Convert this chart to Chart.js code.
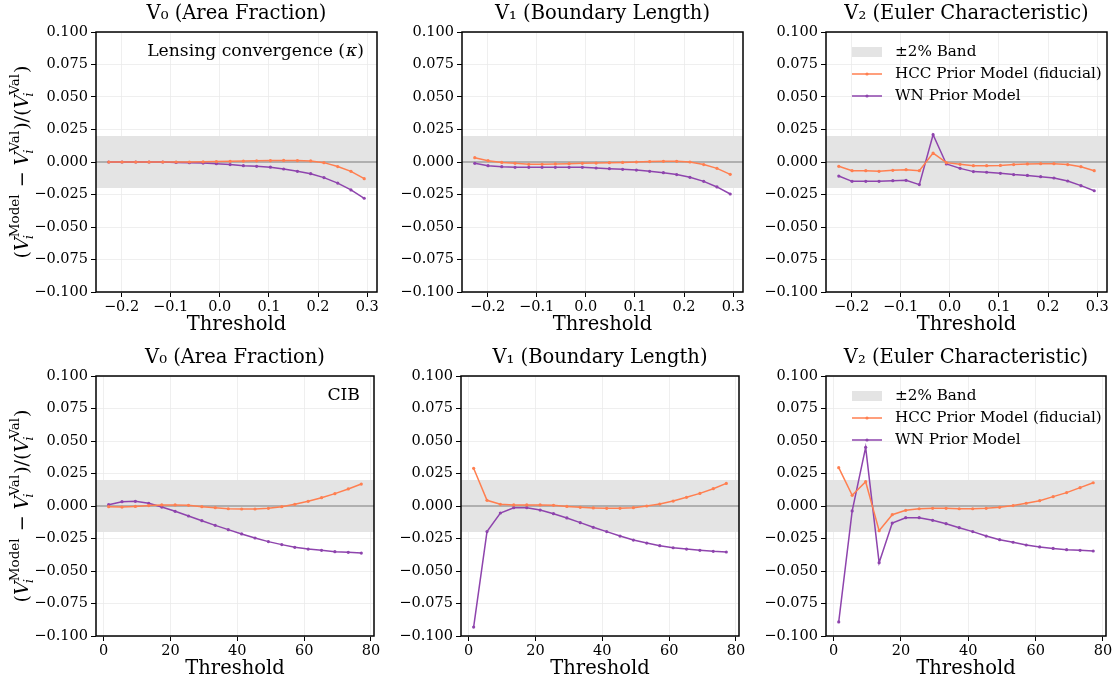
<!DOCTYPE html>
<html>
<head>
<meta charset="utf-8">
<script src="https://cdn.jsdelivr.net/npm/chart.js@4.4.1/dist/chart.umd.min.js"></script>
<style>
    html, body { margin: 0; padding: 0; background: #fff; }
    #wrap { position: relative; width: 1118px; height: 681px; overflow: hidden; }
    #wrap canvas { position: absolute; left: 0; top: 0; }
</style>
</head>
<body>
<div id="wrap"></div>
<script>
// thresholds
const kappaThresholds = [-0.226, -0.199, -0.171, -0.144, -0.116, -0.089, -0.062, -0.034, -0.007, 0.021, 0.048, 0.075, 0.103, 0.130, 0.158, 0.185, 0.212, 0.240, 0.267, 0.294];
const cibThresholds = [1.5, 5.5, 9.5, 13.5, 17.4, 21.4, 25.4, 29.4, 33.4, 37.3, 41.3, 45.3, 49.3, 53.3, 57.2, 61.2, 65.2, 69.2, 73.2, 77.1];

// lensing convergence
const hccKappaV0 = [0, 0, 0, 0, 0, 0, 0, 0.0001, 0.0003, 0.0005, 0.0007, 0.0009, 0.0011, 0.0012, 0.0011, 0.0008, -0.0005, -0.0035, -0.0072, -0.0128];
const wnKappaV0 = [0, 0, 0, 0, 0, -0.0003, -0.0005, -0.0008, -0.0013, -0.0020, -0.0028, -0.0033, -0.0040, -0.0054, -0.0072, -0.0090, -0.0120, -0.0162, -0.0215, -0.0279];
const hccKappaV1 = [0.0033, 0.0010, -0.0003, -0.0010, -0.0018, -0.0018, -0.0015, -0.0013, -0.0010, -0.0008, -0.0005, -0.0003, 0, 0.0003, 0.0005, 0.0005, 0, -0.0020, -0.0049, -0.0095];
const wnKappaV1 = [-0.0010, -0.0028, -0.0036, -0.0041, -0.0041, -0.0041, -0.0041, -0.0041, -0.0041, -0.0046, -0.0051, -0.0056, -0.0062, -0.0072, -0.0082, -0.0097, -0.0118, -0.0149, -0.0192, -0.0246];
const hccKappaV2 = [-0.0033, -0.0067, -0.0067, -0.0072, -0.0064, -0.0059, -0.0067, 0.0069, -0.0005, -0.0018, -0.0028, -0.0028, -0.0026, -0.0020, -0.0015, -0.0013, -0.0013, -0.0020, -0.0036, -0.0067];
const wnKappaV2 = [-0.0108, -0.0149, -0.0149, -0.0149, -0.0144, -0.0141, -0.0174, 0.0210, -0.0015, -0.0049, -0.0074, -0.0079, -0.0087, -0.0097, -0.0103, -0.0113, -0.0123, -0.0146, -0.0182, -0.0221];

// CIB
const hccCibV0 = [-0.0005, -0.0008, -0.0003, 0.0003, 0.0008, 0.0008, 0.0005, -0.0005, -0.0013, -0.0021, -0.0023, -0.0023, -0.0018, -0.0005, 0.0013, 0.0036, 0.0064, 0.0095, 0.0131, 0.0169];
const wnCibV0 = [0.0010, 0.0033, 0.0036, 0.0021, -0.0008, -0.0041, -0.0077, -0.0113, -0.0149, -0.0182, -0.0215, -0.0246, -0.0274, -0.0297, -0.0318, -0.0331, -0.0341, -0.0351, -0.0356, -0.0362];
const hccCibV1 = [0.0290, 0.0044, 0.0013, 0.0008, 0.0008, 0.0008, 0.0005, -0.0003, -0.0010, -0.0015, -0.0018, -0.0018, -0.0013, 0, 0.0015, 0.0038, 0.0067, 0.0097, 0.0133, 0.0174];
const wnCibV1 = [-0.0931, -0.0197, -0.0054, -0.0013, -0.0013, -0.0031, -0.0059, -0.0092, -0.0128, -0.0164, -0.0197, -0.0231, -0.0262, -0.0285, -0.0305, -0.0321, -0.0331, -0.0341, -0.0349, -0.0354];
const hccCibV2 = [0.0295, 0.0082, 0.0187, -0.0190, -0.0067, -0.0033, -0.0021, -0.0018, -0.0018, -0.0021, -0.0021, -0.0018, -0.0010, 0.0003, 0.0021, 0.0041, 0.0072, 0.0103, 0.0141, 0.0179];
const wnCibV2 = [-0.0892, -0.0038, 0.0451, -0.0436, -0.0131, -0.0090, -0.0090, -0.0110, -0.0136, -0.0167, -0.0197, -0.0231, -0.0259, -0.0279, -0.0300, -0.0315, -0.0326, -0.0336, -0.0341, -0.0346];

// axes
const kappaTicks = [-0.2, -0.1, 0.0, 0.1, 0.2, 0.3];
const cibTicks = [0, 20, 40, 60, 80];
const yTicks = [-0.1, -0.075, -0.05, -0.025, 0, 0.025, 0.05, 0.075, 0.1];
const panelTitles = ['V\u2080 (Area Fraction)', 'V\u2081 (Boundary Length)', 'V\u2082 (Euler Characteristic)'];
const BAND = 0.02;

const ORANGE = '#ff7f50';
const PURPLE = '#8e44ad';
const FONT = "'DejaVu Serif', serif";
const W = 1118, H = 681, YW = 60, XH = 40;

const minus = s => s.replace('-', '\u2212');

const rects = [
    [{ l: 96, r: 377, t: 32, b: 292 }, { l: 462, r: 743, t: 32, b: 292 }, { l: 826, r: 1107, t: 32, b: 292 }],
    [{ l: 96, r: 374, t: 376, b: 636 }, { l: 461, r: 739, t: 376, b: 636 }, { l: 826, r: 1106, t: 376, b: 636 }]
];

function drawYLabel(ctx, cx, cy) {
    const big = 19, small = 13.5;
    const parts = [['t', '('], ['v', 'Model'], ['t', ' \u2212 '], ['v', 'Val'], ['t', ')/('], ['v', 'Val'], ['t', ')']];
    const fRoman = s => s + 'px ' + FONT, fItal = s => 'italic ' + s + 'px ' + FONT;
    let total = 0;
    const widths = parts.map(([k, s]) => {
        let w;
        if (k === 't') { ctx.font = fRoman(big); w = ctx.measureText(s).width; }
        else {
            ctx.font = fItal(big); const vw = ctx.measureText('V').width;
            ctx.font = fRoman(small); const sw = ctx.measureText(s).width;
            w = vw + sw + 1;
        }
        total += w;
        return w;
    });
    ctx.save();
    ctx.translate(cx, cy);
    ctx.rotate(-Math.PI / 2);
    ctx.fillStyle = '#000';
    ctx.textBaseline = 'alphabetic';
    ctx.textAlign = 'left';
    let x = -total / 2;
    const base = 6;
    parts.forEach(([k, s], i) => {
        if (k === 't') { ctx.font = fRoman(big); ctx.fillText(s, x, base); }
        else {
            ctx.font = fItal(big); ctx.fillText('V', x, base);
            const vw = ctx.measureText('V').width;
            ctx.font = fRoman(small); ctx.fillText(s, x + vw, base - 9);
            ctx.font = fItal(small); ctx.fillText('i', x + vw - 2, base + 5);
        }
        x += widths[i];
    });
    ctx.restore();
}

function makePanel(row, col) {
    const r = rects[row][col];
    const xs = row === 0 ? kappaThresholds : cibThresholds;
    const series = [
        [[hccKappaV0, wnKappaV0], [hccKappaV1, wnKappaV1], [hccKappaV2, wnKappaV2]],
        [[hccCibV0, wnCibV0], [hccCibV1, wnCibV1], [hccCibV2, wnCibV2]]
    ][row][col];
    const xTicks = row === 0 ? kappaTicks : cibTicks;
    const xMin = row === 0 ? -0.252 : -2.28;
    const xMax = row === 0 ? 0.320 : 80.9;

    const canvas = document.createElement('canvas');
    canvas.width = W; canvas.height = H;
    canvas.style.width = W + 'px'; canvas.style.height = H + 'px';
    document.getElementById('wrap').appendChild(canvas);

    const panelPlugin = {
        id: 'panel' + row + col,
        beforeDatasetsDraw(chart) {
            const { ctx, chartArea: a, scales: { y } } = chart;
            ctx.save();
            ctx.fillStyle = '#e4e4e4';
            const yt = y.getPixelForValue(BAND), yb = y.getPixelForValue(-BAND);
            ctx.fillRect(a.left, yt, a.right - a.left, yb - yt);
            ctx.strokeStyle = '#7a7a7a';
            ctx.lineWidth = 1.2;
            const y0 = y.getPixelForValue(0);
            ctx.beginPath(); ctx.moveTo(a.left, y0); ctx.lineTo(a.right, y0); ctx.stroke();
            ctx.restore();
        },
        afterDraw(chart) {
            const { ctx, chartArea: a } = chart;
            ctx.save();
            ctx.strokeStyle = '#000';
            ctx.lineWidth = 1.5;
            ctx.strokeRect(a.left, a.top, a.right - a.left, a.bottom - a.top);

            ctx.fillStyle = '#000';
            ctx.textAlign = 'center';
            ctx.textBaseline = 'middle';
            ctx.font = '19.5px ' + FONT;
            ctx.fillText(panelTitles[col], (a.left + a.right) / 2, a.top - 18);
            ctx.fillText('Threshold', (a.left + a.right) / 2, a.bottom + 33);

            if (col === 0) {
                drawYLabel(ctx, 22, (a.top + a.bottom) / 2);
                ctx.font = '17.2px ' + FONT;
                ctx.textAlign = 'right';
                if (row === 0) {
                    const tail = ')';
                    ctx.fillText(tail, a.right - 13, a.top + 20);
                    let x = a.right - 13 - ctx.measureText(tail).width;
                    ctx.font = 'italic 17.2px ' + FONT;
                    ctx.fillText('\u03ba', x, a.top + 20);
                    x -= ctx.measureText('\u03ba').width + 1;
                    ctx.font = '17.2px ' + FONT;
                    ctx.fillText('Lensing convergence (', x, a.top + 20);
                } else {
                    ctx.fillText('CIB', a.right - 14, a.top + 20);
                }
            }

            if (col === 2) {
                const lx = a.left + 26, tx = a.left + 69;
                ctx.font = '15.2px ' + FONT;
                ctx.textAlign = 'left';
                ctx.fillStyle = '#e4e4e4';
                ctx.fillRect(lx, a.top + 15, 30, 10);
                ctx.fillStyle = '#000';
                ctx.fillText('\u00b12% Band', tx, a.top + 20);
                [[ORANGE, 'HCC Prior Model (fiducial)', 42], [PURPLE, 'WN Prior Model', 64]].forEach(([c, t, dy]) => {
                    ctx.strokeStyle = c;
                    ctx.fillStyle = c;
                    ctx.lineWidth = 1.5;
                    ctx.beginPath(); ctx.moveTo(lx, a.top + dy); ctx.lineTo(lx + 30, a.top + dy); ctx.stroke();
                    ctx.beginPath(); ctx.arc(lx + 15, a.top + dy, 1.6, 0, Math.PI * 2); ctx.fill();
                    ctx.fillStyle = '#000';
                    ctx.fillText(t, tx, a.top + dy);
                });
            }
            ctx.restore();
        }
    };

    const mk = (label, ys, color) => ({
        label: label,
        data: xs.map((x, i) => ({ x: x, y: ys[i] })),
        borderColor: color,
        backgroundColor: color,
        borderWidth: 1.5,
        pointRadius: 1.6,
        pointHoverRadius: 1.6,
        pointBorderWidth: 0,
        pointBackgroundColor: color,
        tension: 0,
        fill: false
    });

    const gridOpts = { color: '#ebebeb', lineWidth: 0.8, tickColor: '#000', tickLength: 5, tickWidth: 1 };

    new Chart(canvas.getContext('2d'), {
        type: 'line',
        data: {
            datasets: [
                mk('HCC Prior Model (fiducial)', series[0], ORANGE),
                mk('WN Prior Model', series[1], PURPLE)
            ]
        },
        options: {
            responsive: false,
            animation: false,
            devicePixelRatio: 1,
            layout: { padding: { left: r.l - YW, right: W - r.r, top: r.t, bottom: H - r.b - XH } },
            plugins: { legend: { display: false }, tooltip: { enabled: false }, title: { display: false } },
            scales: {
                x: {
                    type: 'linear',
                    min: xMin,
                    max: xMax,
                    afterFit: s => { s.height = XH; },
                    afterBuildTicks: s => { s.ticks = xTicks.map(v => ({ value: v })); },
                    ticks: {
                        autoSkip: false,
                        maxRotation: 0,
                        padding: 2,
                        color: '#000',
                        font: { family: FONT, size: 14.5 },
                        callback: v => row === 0 ? minus(v.toFixed(1)) : String(v)
                    },
                    grid: gridOpts,
                    border: { display: false }
                },
                y: {
                    min: -0.1,
                    max: 0.1,
                    afterFit: s => { s.width = YW; },
                    afterBuildTicks: s => { s.ticks = yTicks.map(v => ({ value: v })); },
                    ticks: {
                        padding: 3,
                        color: '#000',
                        font: { family: FONT, size: 14.5 },
                        callback: v => minus(v.toFixed(3))
                    },
                    grid: gridOpts,
                    border: { display: false }
                }
            }
        },
        plugins: [panelPlugin]
    });
}

for (let row = 0; row < 2; row++) {
    for (let col = 0; col < 3; col++) makePanel(row, col);
}
</script>
</body>
</html>
